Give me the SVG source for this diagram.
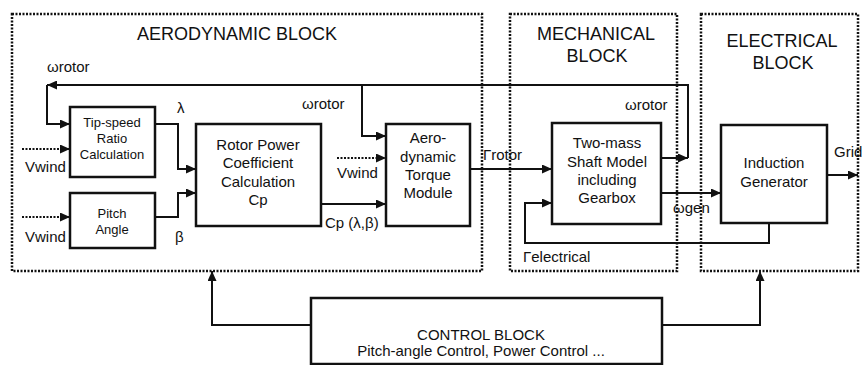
<svg xmlns="http://www.w3.org/2000/svg" width="863" height="365" viewBox="0 0 863 365">
<style>
text{font-family:"Liberation Sans",Arial,sans-serif;fill:#111;}
.t{font-size:18px;text-anchor:middle;}
.b{font-size:15px;text-anchor:middle;}
.s{font-size:13px;text-anchor:middle;}
.l{font-size:15px;}
.grp{fill:none;stroke:#111;stroke-width:2.5;stroke-dasharray:2 1.5;}
.box{fill:#fff;stroke:#111;stroke-width:2.5;}
.c{fill:none;stroke:#111;stroke-width:2;}
.d{fill:none;stroke:#111;stroke-width:2;stroke-dasharray:2 1.5;}
</style>
<defs>
<marker id="ar" markerUnits="userSpaceOnUse" markerWidth="10" markerHeight="9" viewBox="0 0 10 9" refX="10" refY="4.5" orient="auto">
<path d="M0,0 L10,4.5 L0,9 z" fill="#111"/>
</marker>
</defs>
<rect width="863" height="365" fill="#fff"/>

<g id="aerodynamic-block">
<rect class="grp" x="12" y="14" width="470" height="257"/>
<text class="t" x="237" y="40">AERODYNAMIC BLOCK</text>
</g>
<g id="mechanical-block">
<rect class="grp" x="510" y="14" width="167" height="257"/>
<text class="t" x="596" y="40">MECHANICAL</text>
<text class="t" x="597" y="62">BLOCK</text>
</g>
<g id="electrical-block">
<rect class="grp" x="701" y="14" width="157" height="257"/>
<text class="t" x="782" y="47">ELECTRICAL</text>
<text class="t" x="783" y="69">BLOCK</text>
</g>

<g id="connectors">
<path class="c" d="M661,158 H688" marker-end="url(#ar)"/>
<path class="c" d="M688,158 V85 H47" marker-end="url(#ar)"/>
<path class="c" d="M47,85 V124 H70" marker-end="url(#ar)"/>
<path class="c" d="M362,85 V136 H386" marker-end="url(#ar)"/>
<path class="c" d="M155,124 H178 V169 H196" marker-end="url(#ar)"/>
<path class="c" d="M155,217 H178 V193 H196" marker-end="url(#ar)"/>
<path class="d" d="M22,149 H70" marker-end="url(#ar)"/>
<path class="d" d="M22,217 H70" marker-end="url(#ar)"/>
<path class="d" d="M337,158 H386" marker-end="url(#ar)"/>
<path class="c" d="M321,204 H386" marker-end="url(#ar)"/>
<path class="c" d="M470,169 H552" marker-end="url(#ar)"/>
<path class="c" d="M661,193 H721" marker-end="url(#ar)"/>
<path class="c" d="M769,223 V243 H525 V203 H552" marker-end="url(#ar)"/>
<path class="c" d="M827,175 H858" marker-end="url(#ar)"/>
<path class="c" d="M311,325 H212 V271" marker-end="url(#ar)"/>
<path class="c" d="M662,325 H760 V271" marker-end="url(#ar)"/>
</g>

<g id="labels">
<text class="l" x="47" y="72">ωrotor</text>
<text class="l" x="302" y="109">ωrotor</text>
<text class="l" x="625" y="110">ωrotor</text>
<text class="l" x="25" y="172">Vwind</text>
<text class="l" x="25" y="242">Vwind</text>
<text class="l" x="337" y="178">Vwind</text>
<text class="l" x="177" y="113">λ</text>
<text class="l" x="175" y="242">β</text>
<text class="l" x="325" y="228">Cp (λ,β)</text>
<text class="l" x="483" y="160">Γrotor</text>
<text class="l" x="673" y="213">ωgen</text>
<text class="l" x="523" y="262">Γelectrical</text>
<text class="l" x="834" y="157">Grid</text>
</g>

<g id="tip-speed">
<rect class="box" x="70" y="107" width="85" height="70"/>
<text class="s" x="112" y="127">Tip-speed</text>
<text class="s" x="112" y="143">Ratio</text>
<text class="s" x="112" y="159">Calculation</text>
</g>
<g id="pitch-angle">
<rect class="box" x="70" y="193" width="85" height="55"/>
<text class="s" x="112" y="218">Pitch</text>
<text class="s" x="112" y="234">Angle</text>
</g>
<g id="rotor-power">
<rect class="box" x="196" y="124" width="125" height="102"/>
<text class="b" x="258" y="150">Rotor Power</text>
<text class="b" x="258" y="168">Coefficient</text>
<text class="b" x="258" y="187">Calculation</text>
<text class="b" x="258" y="205">Cp</text>
</g>
<g id="aero-torque">
<rect class="box" x="386" y="124" width="84" height="102"/>
<text class="b" x="428" y="143">Aero-</text>
<text class="b" x="428" y="162">dynamic</text>
<text class="b" x="428" y="180">Torque</text>
<text class="b" x="428" y="198">Module</text>
</g>
<g id="shaft-model">
<rect class="box" x="552" y="123" width="109" height="101"/>
<text class="b" x="607" y="148">Two-mass</text>
<text class="b" x="607" y="167">Shaft Model</text>
<text class="b" x="607" y="185">including</text>
<text class="b" x="607" y="203">Gearbox</text>
</g>
<g id="induction-generator">
<rect class="box" x="721" y="125" width="106" height="98"/>
<text class="b" x="774" y="168">Induction</text>
<text class="b" x="774" y="187">Generator</text>
</g>
<g id="control-block">
<rect class="box" x="311" y="298" width="351" height="66"/>
<text class="b" x="481" y="340">CONTROL BLOCK</text>
<text class="b" x="481" y="356">Pitch-angle Control, Power Control ...</text>
</g>
</svg>
